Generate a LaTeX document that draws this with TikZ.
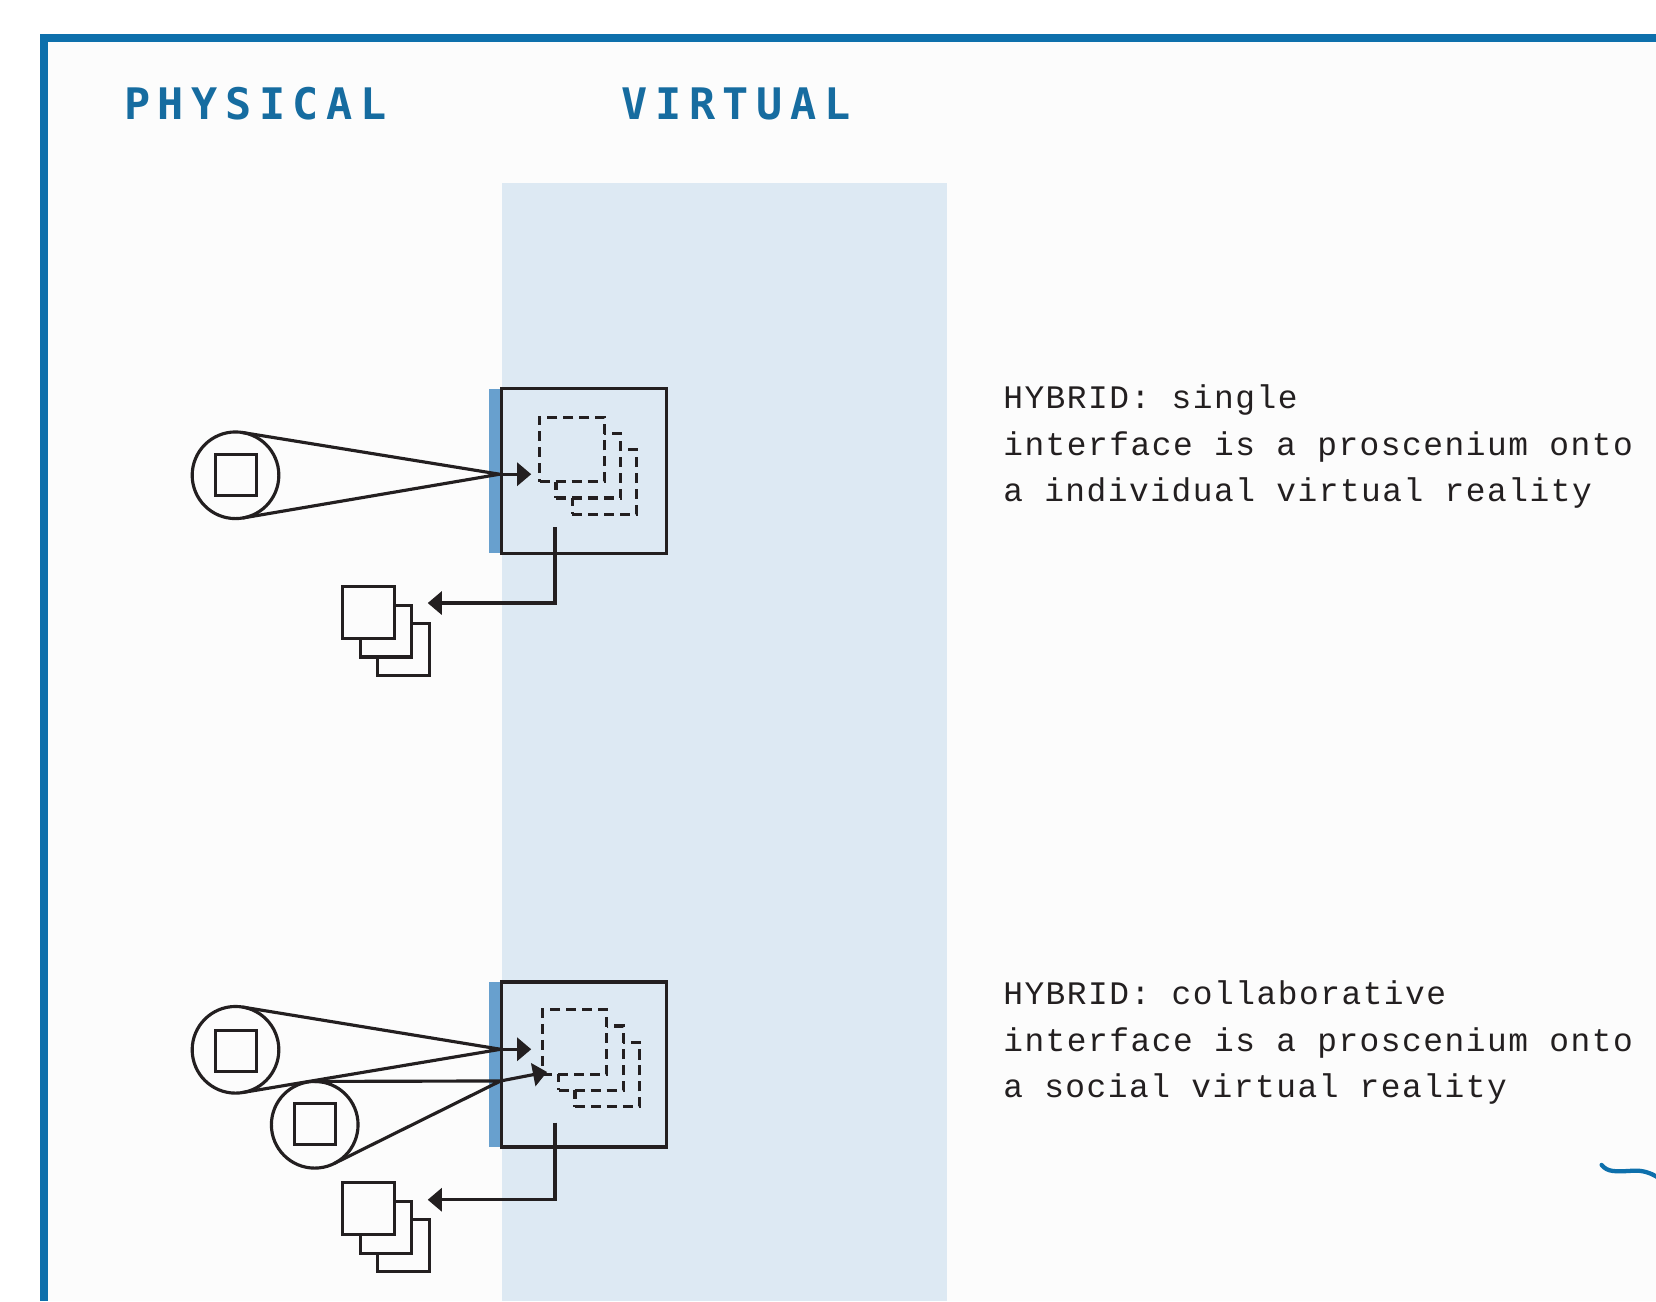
\documentclass[tikz,border=0pt]{standalone}
\usepackage{fontspec}
\usetikzlibrary{arrows.meta,calc}
\newfontfamily\hdrfont{DejaVu Sans Mono}[LetterSpace=17.5]
\newfontfamily\txtfont{Liberation Mono}[LetterSpace=4.6]
\definecolor{frameblue}{RGB}{14,112,172}
\definecolor{hdrblue}{RGB}{22,108,160}
\definecolor{bandblue}{RGB}{221,233,243}
\definecolor{stripblue}{RGB}{104,160,206}
\definecolor{bgcol}{RGB}{252,252,252}
\definecolor{ink}{RGB}{35,31,32}
\tikzset{
  bigbox/.style={draw=ink, line width=0.9pt, minimum size=1.56cm, inner sep=0pt, outer sep=0pt},
  dashbox/.style={draw=ink, line width=0.85pt, dash pattern=on 2.7pt off 1.6pt, fill=bandblue, minimum size=0.61cm, inner sep=0pt, outer sep=0pt},
  lens/.style={circle, draw=ink, fill=bgcol, minimum size=0.82cm, inner sep=0pt, outer sep=0pt},
  chip/.style={draw=ink, minimum size=0.39cm, inner sep=0pt, outer sep=0pt},
  copybox/.style={draw=ink, fill=bgcol, minimum size=0.49cm, inner sep=0pt, outer sep=0pt},
  arr/.style={draw=ink, -{Triangle[length=3.8pt,width=6.2pt]}},
  hdr/.style={anchor=base west, inner sep=0pt, text=hdrblue, font=\hdrfont\bfseries\fontsize{11.7}{14}\selectfont},
  txt/.style={anchor=base west, inner sep=0pt, text=ink, font=\txtfont\fontsize{8.85}{12}\selectfont}
}
\begin{document}
\begin{tikzpicture}[x=0.01cm, y=-0.01cm, line width=0.85pt]
\useasboundingbox (0,0) rectangle (1568,1232);
\fill[white] (0,0) rectangle (1568,1232);
\fill[bgcol] (45.5,39.5) rectangle (1568,1232);
% virtual band
\fill[bandblue] (475,173) rectangle (897,1232);

% headers
\node[hdr] (phys) at (116,113.6) {PHYSICAL};
\node[hdr] (virt) at (587,113.6) {VIRTUAL};

% ---------- top: single ----------
\fill[stripblue] (463,368) rectangle (475,524);
\node[bigbox] (s1) at (553,446) {};
\node[dashbox] (d13) at (572.5,456.5) {};
\node[dashbox] (d12) at (557,441) {};
\node[dashbox] (d11) at (541.5,425.5) {};

\node[lens] (c1) at (223,450) {};
\node[chip] (ch1) at (223.5,450) {};
\coordinate (p1) at (473,449);
\coordinate (a1) at (503,449);
\draw[ink] (tangent cs:node=c1,point={(p1)},solution=1) -- (p1) -- (tangent cs:node=c1,point={(p1)},solution=2);
\draw[arr] (p1) -- (a1);

\coordinate (o1) at (525.5,499);
\coordinate (t1) at (405,571);
\draw[arr] (o1) |- (t1);
\node[copybox] (k13) at (382,615) {};
\node[copybox] (k12) at (365.5,597.5) {};
\node[copybox] (k11) at (349,580) {};

% ---------- bottom: collaborative ----------
\fill[stripblue] (463,930) rectangle (475,1086);
\node[bigbox] (s2) at (553,1008) {};
\node[dashbox] (d23) at (575,1017.5) {};
\node[dashbox] (d22) at (559.5,1002) {};
\node[dashbox] (d21) at (544,986.5) {};

\node[lens] (c2) at (223,994) {};
\node[chip] (ch2) at (223.5,995) {};
\node[lens] (c3) at (298,1065) {};
\node[chip] (ch3) at (298.5,1064) {};
\coordinate (p2) at (474,993.5);
\coordinate (a2) at (503,993.5);
\coordinate (p3) at (474,1023.5);
\coordinate (a3) at (518,1015);
\draw[ink] (tangent cs:node=c2,point={(p2)},solution=1) -- (p2) -- (tangent cs:node=c2,point={(p2)},solution=2);
\draw[ink] (tangent cs:node=c3,point={(p3)},solution=1) -- (p3) -- (tangent cs:node=c3,point={(p3)},solution=2);
\draw[arr] (p2) -- (a2);
\draw[arr] (p3) -- (a3);

\coordinate (o2) at (525.5,1063);
\coordinate (t2) at (405,1136);
\draw[arr] (o2) |- (t2);
\node[copybox] (k23) at (382,1179.5) {};
\node[copybox] (k22) at (365.5,1162) {};
\node[copybox] (k21) at (349,1144.5) {};

% ---------- texts ----------
\node[txt] (l11) at (948.5,387) {HYBRID: single};
\node[txt] (l12) at (948.5,431) {interface is a proscenium onto};
\node[txt] (l13) at (948.5,475) {a individual virtual reality};
\node[txt] (l21) at (948.5,951.5) {HYBRID: collaborative};
\node[txt] (l22) at (948.5,995.5) {interface is a proscenium onto};
\node[txt] (l23) at (948.5,1039.5) {a social virtual reality};

% ---------- frame ----------
\fill[frameblue] (38,32) rectangle (1568,39.5);
\fill[frameblue] (38,32) rectangle (45.5,1232);
\draw[frameblue, line width=1.15pt, line cap=round] (1516.5,1103) .. controls (1522,1110) and (1530,1109.5) .. (1546,1108.5) .. controls (1555,1108) and (1562,1110) .. (1570,1115);
\end{tikzpicture}
\end{document}
